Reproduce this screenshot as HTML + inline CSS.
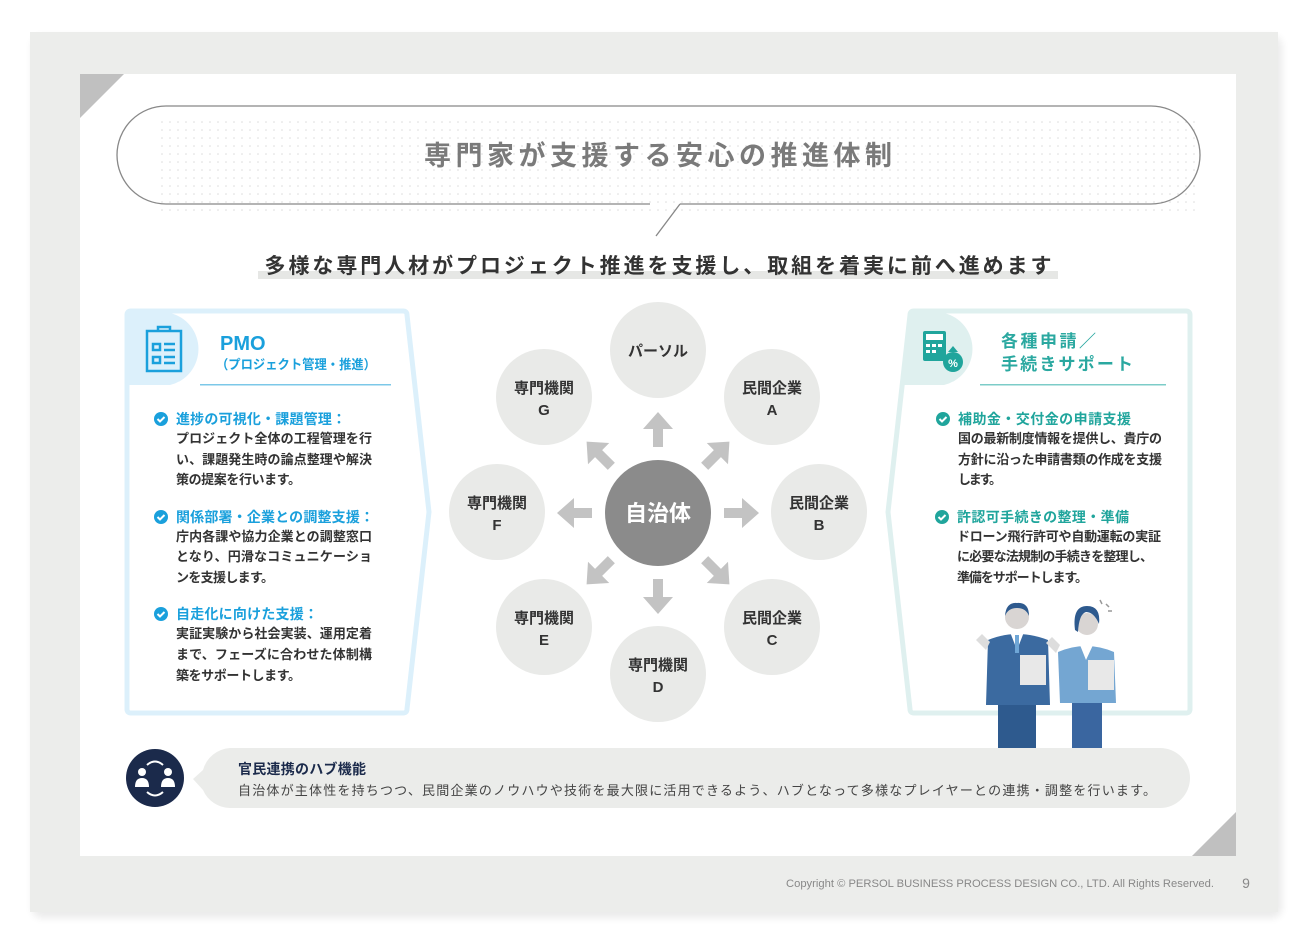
<!DOCTYPE html>
<html><head><meta charset="utf-8"><style>
html,body{margin:0;padding:0;background:#fff;}
svg{display:block;font-family:"Liberation Sans","Noto Sans CJK JP",sans-serif;}
.b{font-weight:bold;}
</style></head><body>
<svg width="1316" height="942" viewBox="0 0 1316 942" xmlns="http://www.w3.org/2000/svg">
<defs>
<pattern id="dots" width="8" height="8" patternUnits="userSpaceOnUse"><circle cx="2" cy="2" r="0.8" fill="#dcdcdc"/></pattern>
<filter id="sh" x="-5%" y="-5%" width="110%" height="110%"><feGaussianBlur stdDeviation="4"/></filter>
</defs>
<rect x="32" y="36" width="1250" height="882" rx="10" fill="#000" opacity="0.08" filter="url(#sh)"/>
<rect x="30" y="32" width="1248" height="880" fill="#ecedeb"/>
<rect x="80" y="74" width="1156" height="782" fill="#fff"/>
<polygon points="80,74 124,74 80,118" fill="#c0c0c0"/>
<polygon points="1236,856 1192,856 1236,812" fill="#c0c0c0"/>
<text x="1214" y="887" font-size="11" fill="#888" text-anchor="end" textLength="428" lengthAdjust="spacingAndGlyphs">Copyright © PERSOL BUSINESS PROCESS DESIGN CO., LTD. All Rights Reserved.</text>
<text x="1246" y="888" font-size="14" fill="#888" text-anchor="middle">9</text>

<rect x="160" y="118" width="1040" height="96" fill="url(#dots)"/>
<path d="M680,204 H1151 A49,49 0 0 0 1151,106 H166 A49,49 0 0 0 166,204 H650" fill="none" stroke="#888" stroke-width="1.3"/>
<path d="M680,204 L656,236" fill="none" stroke="#888" stroke-width="1.3"/>
<text x="658" y="165" font-size="27" class="b" fill="#7a7a7a" text-anchor="middle" textLength="468" lengthAdjust="spacing">専門家が支援する安心の推進体制</text>

<rect x="258" y="271" width="800" height="8" fill="#e6e7e5"/>
<text x="658" y="273" font-size="21" class="b" fill="#333" text-anchor="middle" textLength="787" lengthAdjust="spacing">多様な専門人材がプロジェクト推進を支援し、取組を着実に前へ進めます</text>

<path d="M131,311 H403 Q407,311 407,315 L429,512 L407,709 Q407,713 403,713 H131 Q127,713 127,709 V315 Q127,311 131,311 Z" fill="#fff" stroke="#dcf0fb" stroke-width="5"/>
<path d="M129,313 H170 A37,37 0 0 1 170,385 H129 Z" fill="#dcf0fb"/>
<g fill="none" stroke="#1aa0dc" stroke-width="2.5">
<rect x="147" y="331" width="34" height="40"/>
<path d="M158,331 v-4 h12 v4"/>
<rect x="153" y="344" width="7" height="6"/><rect x="153" y="357" width="7" height="6"/>
<path d="M164,344 h11 M164,350 h11 M164,357 h11 M164,363 h11"/>
</g>
<text x="220" y="350" font-size="20" class="b" fill="#1aa0dc">PMO</text>
<text x="216" y="369" font-size="13" class="b" fill="#1aa0dc" textLength="160" lengthAdjust="spacingAndGlyphs">（プロジェクト管理・推進）</text>
<rect x="200" y="384" width="191" height="1.5" fill="#7cc8e8"/>
<g font-size="13" class="b">
<g fill="#1aa0dc"><circle cx="161" cy="419" r="7"/><circle cx="161" cy="517" r="7"/><circle cx="161" cy="614" r="7"/></g>
<g stroke="#fff" stroke-width="2" fill="none"><path d="M157.5,419 l2.5,2.5 l4.5,-4.5"/><path d="M157.5,517 l2.5,2.5 l4.5,-4.5"/><path d="M157.5,614 l2.5,2.5 l4.5,-4.5"/></g>
<text x="176" y="424" font-size="14" fill="#1aa0dc" textLength="170" lengthAdjust="spacing">進捗の可視化・課題管理：</text>
<text x="176" y="443" fill="#333" textLength="196" lengthAdjust="spacing">プロジェクト全体の工程管理を行</text>
<text x="176" y="464" fill="#333" textLength="196" lengthAdjust="spacing">い、課題発生時の論点整理や解決</text>
<text x="176" y="484" fill="#333" textLength="125" lengthAdjust="spacing">策の提案を行います。</text>
<text x="176" y="522" font-size="14" fill="#1aa0dc" textLength="198" lengthAdjust="spacing">関係部署・企業との調整支援：</text>
<text x="176" y="541" fill="#333" textLength="196" lengthAdjust="spacing">庁内各課や協力企業との調整窓口</text>
<text x="176" y="561" fill="#333" textLength="196" lengthAdjust="spacing">となり、円滑なコミュニケーショ</text>
<text x="176" y="582" fill="#333" textLength="98" lengthAdjust="spacing">ンを支援します。</text>
<text x="176" y="619" font-size="14" fill="#1aa0dc" textLength="142" lengthAdjust="spacing">自走化に向けた支援：</text>
<text x="176" y="638" fill="#333" textLength="196" lengthAdjust="spacing">実証実験から社会実装、運用定着</text>
<text x="176" y="659" fill="#333" textLength="196" lengthAdjust="spacing">まで、フェーズに合わせた体制構</text>
<text x="176" y="680" fill="#333" textLength="125" lengthAdjust="spacing">築をサポートします。</text>
</g>

<path d="M914,311 H1186 Q1190,311 1190,315 V709 Q1190,713 1186,713 H914 Q910,713 910,709 L888,512 L910,315 Q910,311 914,311 Z" fill="#fff" stroke="#dff0ef" stroke-width="5"/>
<path d="M912,313 H944 A37,37 0 0 1 944,385 H903 L910,315 Z" fill="#dff0ef"/>
<g fill="#20a59c">
<rect x="923" y="331" width="23" height="30" rx="2"/>
<circle cx="953" cy="362" r="10"/><path d="M948,352 l5,-6 l5,6 z"/>
</g>
<g fill="#fff"><rect x="926" y="334" width="17" height="6"/>
<rect x="926" y="344" width="4" height="3"/><rect x="932" y="344" width="4" height="3"/><rect x="938" y="344" width="4" height="3"/>
<rect x="926" y="350" width="4" height="3"/><rect x="932" y="350" width="4" height="3"/>
<text x="953" y="367" font-size="11" class="b" text-anchor="middle">%</text></g>
<text x="1001" y="347" font-size="17" class="b" fill="#2aa8a0" textLength="95" lengthAdjust="spacing">各種申請／</text>
<text x="1001" y="370" font-size="17" class="b" fill="#2aa8a0" textLength="132" lengthAdjust="spacing">手続きサポート</text>
<rect x="980" y="384" width="186" height="1.5" fill="#7cccc8"/>
<g font-size="13" class="b">
<g fill="#20a59c"><circle cx="943" cy="419" r="7"/><circle cx="942" cy="517" r="7"/></g>
<g stroke="#fff" stroke-width="2" fill="none"><path d="M939.5,419 l2.5,2.5 l4.5,-4.5"/><path d="M938.5,517 l2.5,2.5 l4.5,-4.5"/></g>
<text x="958" y="424" font-size="14" fill="#20a59c" textLength="173" lengthAdjust="spacing">補助金・交付金の申請支援</text>
<text x="958" y="443" fill="#333" textLength="204" lengthAdjust="spacing">国の最新制度情報を提供し、貴庁の</text>
<text x="958" y="464" fill="#333" textLength="204" lengthAdjust="spacing">方針に沿った申請書類の作成を支援</text>
<text x="958" y="484" fill="#333" textLength="44" lengthAdjust="spacing">します。</text>
<text x="957" y="522" font-size="14" fill="#20a59c" textLength="172" lengthAdjust="spacing">許認可手続きの整理・準備</text>
<text x="957" y="541" fill="#333" textLength="204" lengthAdjust="spacing">ドローン飛行許可や自動運転の実証</text>
<text x="957" y="561" fill="#333" textLength="196" lengthAdjust="spacing">に必要な法規制の手続きを整理し、</text>
<text x="957" y="582" fill="#333" textLength="131" lengthAdjust="spacing">準備をサポートします。</text>
</g>
<g>
<rect x="998" y="700" width="38" height="48" fill="#2e5a8e"/>
<path d="M988,640 Q1017,628 1048,640 L1050,705 H986 Z" fill="#3b6aa0"/>
<path d="M1010,632 L1017,650 L1024,632 Z" fill="#fff"/><rect x="1015" y="635" width="4" height="18" fill="#6fa6d6"/>
<circle cx="1017" cy="617" r="12" fill="#d9d5d3"/><path d="M1005,616 Q1006,602 1017,603 Q1029,602 1029,616 Q1026,608 1017,608 Q1008,608 1005,616 Z" fill="#2e5a8e"/>
<rect x="1020" y="655" width="26" height="30" fill="#e8e8e8"/>
<path d="M976,640 l6,-6 l8,8 l-4,8 z" fill="#ddd"/>
<rect x="1072" y="698" width="30" height="50" fill="#3a66a0"/>
<path d="M1058,652 Q1086,640 1114,652 L1116,703 H1060 Z" fill="#74a6d2"/>
<path d="M1080,645 L1086,660 L1093,645 Z" fill="#fff"/>
<circle cx="1087" cy="624" r="11" fill="#d9d5d3"/><path d="M1075,630 Q1072,606 1087,606 Q1101,606 1099,624 Q1094,612 1086,612 Q1079,614 1078,632 Z" fill="#2e5a8e"/>
<rect x="1088" y="660" width="26" height="30" fill="#e8e8e8"/>
<path d="M1046,643 l6,-6 l8,8 l-4,8 z" fill="#ddd"/>
<path d="M1100,600 l2,4 M1106,604 l3,3 M1108,611 h4" stroke="#999" stroke-width="1.5"/>
</g>

<g fill="#e9eae8">
<circle cx="658" cy="350" r="48"/><circle cx="772" cy="397" r="48"/><circle cx="819" cy="512" r="48"/><circle cx="772" cy="627" r="48"/>
<circle cx="658" cy="674" r="48"/><circle cx="544" cy="627" r="48"/><circle cx="497" cy="512" r="48"/><circle cx="544" cy="397" r="48"/>
</g>
<g fill="#c3c3c3">
<g transform="translate(658,513)">
<path id="ar" d="M66,-5 H84 V-15 L101,0 L84,15 V5 H66 Z"/>
<use href="#ar" transform="rotate(45)"/><use href="#ar" transform="rotate(90)"/><use href="#ar" transform="rotate(135)"/>
<use href="#ar" transform="rotate(180)"/><use href="#ar" transform="rotate(225)"/><use href="#ar" transform="rotate(270)"/><use href="#ar" transform="rotate(315)"/>
</g>
</g>
<circle cx="658" cy="513" r="53" fill="#8b8b8b"/>
<text x="658" y="521" font-size="22" class="b" fill="#fff" text-anchor="middle">自治体</text>
<g font-size="15" class="b" fill="#333" text-anchor="middle">
<text x="658" y="356">パーソル</text>
<text x="772" y="393">民間企業</text><text x="772" y="415">A</text>
<text x="819" y="508">民間企業</text><text x="819" y="530">B</text>
<text x="772" y="623">民間企業</text><text x="772" y="645">C</text>
<text x="658" y="670">専門機関</text><text x="658" y="692">D</text>
<text x="544" y="623">専門機関</text><text x="544" y="645">E</text>
<text x="497" y="508">専門機関</text><text x="497" y="530">F</text>
<text x="544" y="393">専門機関</text><text x="544" y="415">G</text>
</g>

<path d="M230,748 H1160 A30,30 0 0 1 1160,808 H230 A30,30 0 0 1 203,790 L193,779 L203,770 A30,30 0 0 1 230,748 Z" fill="#ebecea"/>
<circle cx="155" cy="778" r="29" fill="#1b2a4b"/>
<g fill="#fff"><circle cx="142" cy="772" r="4"/><path d="M135,787 q0,-9 7,-9 q7,0 7,9 z"/><circle cx="168" cy="772" r="4"/><path d="M161,787 q0,-9 7,-9 q7,0 7,9 z"/></g>
<g fill="none" stroke="#fff" stroke-width="2"><path d="M147,765 q8,-7 16,0"/><path d="M147,792 q8,7 16,0"/></g>
<text x="238" y="774" font-size="14" class="b" fill="#1b2a4b" textLength="128" lengthAdjust="spacing">官民連携のハブ機能</text>
<text x="238" y="795" font-size="13" fill="#444" textLength="918" lengthAdjust="spacing">自治体が主体性を持ちつつ、民間企業のノウハウや技術を最大限に活用できるよう、ハブとなって多様なプレイヤーとの連携・調整を行います。</text>
</svg>
</body></html>
